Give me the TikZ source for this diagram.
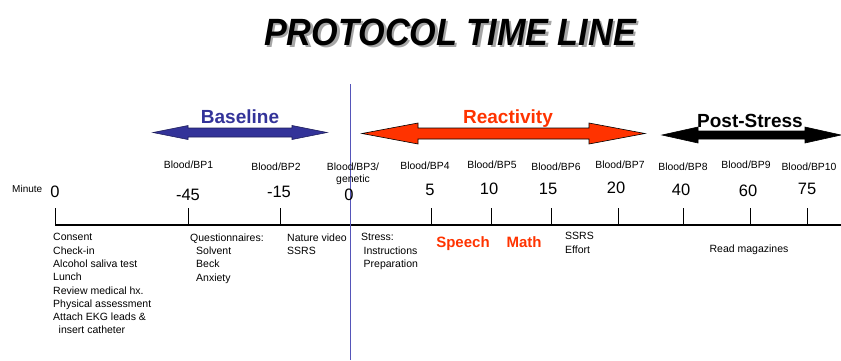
\documentclass[tikz,border=0pt]{standalone}
\usepackage{fontspec}
\setmainfont{Liberation Sans}
\definecolor{baseblue}{RGB}{51,51,153}
\definecolor{reactred}{RGB}{255,51,0}
\definecolor{vline}{RGB}{85,85,185}
\newcommand{\dblarrowpath}[6]{% x1 x2 yc shafthalf headhalf headlen
  (#1,#3) -- (#1+#6,#3-#5) -- (#1+#6,#3-#4) -- (#2-#6,#3-#4) -- (#2-#6,#3-#5)
  -- (#2,#3) -- (#2-#6,#3+#5) -- (#2-#6,#3+#4) -- (#1+#6,#3+#4) -- (#1+#6,#3+#5) -- cycle}
\newcommand{\titletext}{\scalebox{0.9}[1]{PROTOCOL TIME LINE}}
\tikzset{
  blood/.style={anchor=base, inner sep=0pt, font=\fontsize{10.4}{12.5}\selectfont},
  num/.style={anchor=base, inner sep=0pt, font=\fontsize{16.5}{19}\selectfont},
  note/.style={anchor=north west, inner sep=0pt, align=left, font=\fontsize{10.5}{13.3}\selectfont},
  phase/.style={anchor=base, inner sep=0pt, font=\bfseries\fontsize{19}{22}\selectfont},
  task/.style={anchor=base, inner sep=0pt, text=reactred, font=\bfseries\fontsize{15}{18}\selectfont},
  tick/.style={line width=1pt},
}
\begin{document}
\begin{tikzpicture}[x=1pt,y=-1pt]
\useasboundingbox (0,0) rectangle (841,360);
% title with drop shadow (one text)
\node[anchor=base, inner sep=0pt, font=\bfseries\itshape\fontsize{38}{44}\selectfont] (title) at (450,45)
  {\makebox[0pt][l]{\hspace*{2.5pt}\raisebox{-2.5pt}{\textcolor{black!35}{\titletext}}}\titletext};
% phase arrows
\filldraw[fill=baseblue, draw=baseblue!60!black, line width=0.6pt] \dblarrowpath{153}{327}{132.5}{4.5}{7}{35};
\filldraw[fill=reactred, draw=black, line width=0.6pt] \dblarrowpath{362}{645}{133.5}{5.5}{10.5}{56};
\filldraw[fill=black, draw=black, line width=0.6pt] \dblarrowpath{662}{841}{135}{4}{8}{36};
\node[phase, text=baseblue] (baseline) at (240,123) {Baseline};
\node[phase, text=reactred] (reactivity) at (508,123) {Reactivity};
\node[phase] (poststress) at (750,127) {Post-Stress};
% axis
\coordinate (axL) at (55,225);
\coordinate (axR) at (841,225);
\draw[line width=1.3pt] (axL) -- (axR);
\foreach \x in {55,188,280,350,431,491,551,618,683,750,807}{
  \draw[tick] (\x,208) -- (\x,225);
}
% vertical line at 0
\coordinate (vtop) at (350,84);
\coordinate (vbot) at (350,360);
\draw[vline, line width=0.9pt] (vtop) -- (vbot);
% minute label & numbers
\node[anchor=base west, inner sep=0pt, font=\fontsize{10}{12}\selectfont] (minute) at (12,192) {Minute};
\node[num] (n0a) at (55,197) {0};
\node[num] (n45) at (188,200) {-45};
\node[num] (n15m) at (279,197) {-15};
\node[num] (n0b) at (349,200) {0};
\node[num] (n5) at (430,195) {5};
\node[num] (n10) at (489,194) {10};
\node[num] (n15) at (548,194) {15};
\node[num] (n20) at (616,193) {20};
\node[num] (n40) at (681,195) {40};
\node[num] (n60) at (748,196) {60};
\node[num] (n75) at (807,194) {75};
% blood labels
\node[blood] (bp1) at (188.5,168) {Blood/BP1};
\node[blood] (bp2) at (276,170) {Blood/BP2};
\node[blood] (bp3) at (353,170) {Blood/BP3/};
\node[blood] (gen) at (353,182) {genetic};
\node[blood] (bp4) at (425,169) {Blood/BP4};
\node[blood] (bp5) at (492,168) {Blood/BP5};
\node[blood] (bp6) at (556,170) {Blood/BP6};
\node[blood] (bp7) at (620,168) {Blood/BP7};
\node[blood] (bp8) at (683,170) {Blood/BP8};
\node[blood] (bp9) at (746,168) {Blood/BP9};
\node[blood] (bp10) at (809,170) {Blood/BP10};
% activity notes
\node[note] (consent) at (53,233.3) {Consent\\Check-in\\Alcohol saliva test\\Lunch\\Review medical hx.\\Physical assessment\\Attach EKG leads \&\\\hspace*{5.5pt}insert catheter};
\node[note] (quest) at (190,233.3) {Questionnaires:\\\hspace*{6pt}Solvent\\\hspace*{6pt}Beck\\\hspace*{6pt}Anxiety};
\node[note] (nature) at (287,233.3) {Nature video\\SSRS};
\node[note] (stress) at (361,233.3) {Stress:\\\hspace*{2.5pt}Instructions\\\hspace*{2.5pt}Preparation};
\node[task] (speech) at (463,247.5) {Speech};
\node[task] (math) at (524,247) {Math};
\node[note] (ssrs) at (565,232.3) {SSRS\\Effort};
\node[anchor=base, inner sep=0pt, font=\fontsize{10.5}{13.3}\selectfont] (read) at (749,252) {Read magazines};
\end{tikzpicture}
\end{document}
